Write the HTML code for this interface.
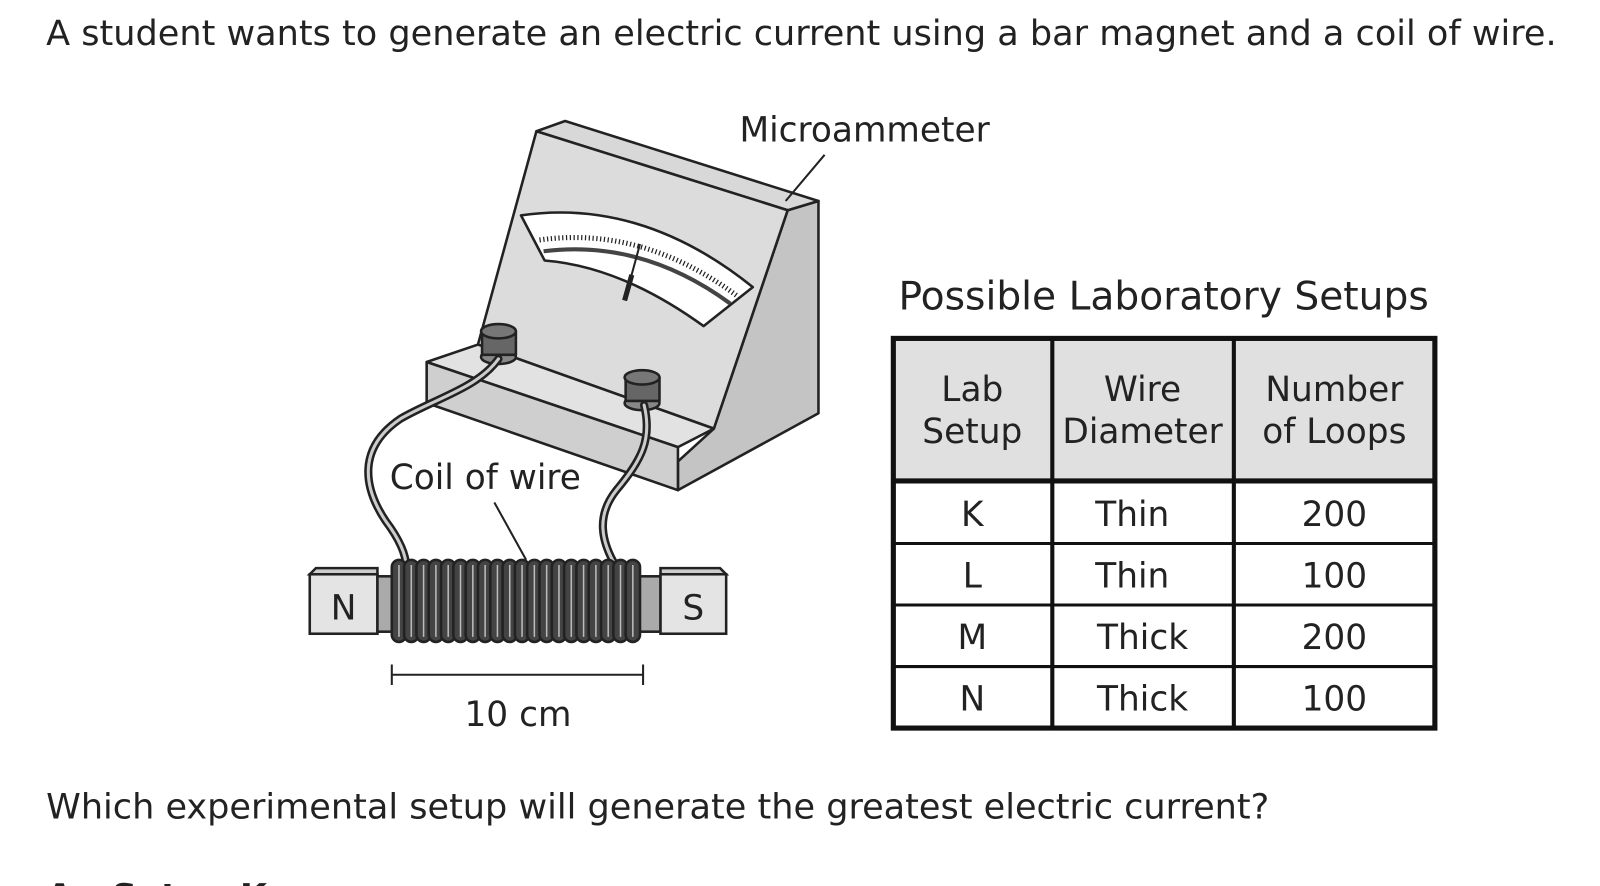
<!DOCTYPE html>
<html><head><meta charset="utf-8"><style>
html,body{margin:0;padding:0;background:#fff;}
body{width:1600px;height:886px;overflow:hidden;}
</style></head><body>
<svg width="1600" height="886" viewBox="0 0 1560 864" preserveAspectRatio="none" xmlns="http://www.w3.org/2000/svg" style="display:block">
<g transform="translate(-4,-2)">
<g font-family="DejaVu Sans, Liberation Sans, sans-serif" fill="#222">
 <text x="49" y="46" font-size="34.2">A student wants to generate an electric current using a bar magnet and a coil of wire.</text>
 <text x="49" y="800" font-size="34.2">Which experimental setup will generate the greatest electric current?</text>
 <text x="49" y="888" font-size="34.2" font-weight="bold">A</text>
 <text x="113" y="888" font-size="34.2" font-weight="bold">Setup K</text>
</g>
<g stroke="#222" stroke-width="2.5" stroke-linejoin="round">
 <polygon points="772,207 802,198 802,405 665,480 665,452 700,420" fill="#c4c4c4"/>
 <polygon points="527,130 555,120 802,198 772,207" fill="#d8d8d8"/>
 <polygon points="527,130 772,207 700,420 470,338" fill="#dcdcdc"/>
 <polygon points="420,355 470,338 700,420 665,438" fill="#e2e2e2"/>
 <polygon points="420,355 665,438 665,480 420,395" fill="#cfcfcf"/>
 <path d="M512,212 Q630,195 738,282 L690,320 Q610,262 535,256 Z" fill="#fff"/>
 <path d="M534,247 Q630,235 716,298" fill="none" stroke-width="4" stroke="#444"/>
 <path d="M530,236 Q630,222 722,290" fill="none" stroke-width="5" stroke-dasharray="1.2 2.5"/>
 <line x1="628" y1="240" x2="613" y2="295" stroke-width="2"/>
 <line x1="620" y1="270" x2="613" y2="295" stroke-width="5"/>
 <ellipse cx="490" cy="350" rx="17" ry="7" fill="#888"/>
 <rect x="474" y="325" width="33" height="23" fill="#666"/>
 <ellipse cx="490" cy="325" rx="17" ry="7" fill="#777"/>
 <ellipse cx="630" cy="395" rx="17" ry="7" fill="#888"/>
 <rect x="614" y="370" width="33" height="23" fill="#666"/>
 <ellipse cx="630" cy="370" rx="17" ry="7" fill="#777"/>
</g>
<g fill="none" stroke-linecap="round">
 <path d="M490,352 C470,380 430,390 395,410 C350,440 360,480 380,510 C395,530 400,545 400,555" stroke="#222" stroke-width="8"/>
 <path d="M490,352 C470,380 430,390 395,410 C350,440 360,480 380,510 C395,530 400,545 400,555" stroke="#ccc" stroke-width="3"/>
 <path d="M632,397 C640,430 630,450 605,480 C585,505 590,530 605,555" stroke="#222" stroke-width="8"/>
 <path d="M632,397 C640,430 630,450 605,480 C585,505 590,530 605,555" stroke="#ccc" stroke-width="3"/>
</g>
<g stroke="#222" stroke-width="2.5">
 <rect x="306" y="562" width="66" height="58" fill="#e4e4e4"/>
 <polygon points="306,562 312,556 372,556 372,562" fill="#ccc"/>
 <rect x="372" y="564" width="276" height="54" fill="#aaa"/>
 <rect x="648" y="562" width="64" height="58" fill="#e4e4e4"/>
 <polygon points="648,562 648,556 706,556 712,562" fill="#ccc"/>
</g>
<g stroke="#222" stroke-width="2.5" fill="#444">
 <rect x="386" y="548" width="14" height="80" rx="7"/><rect x="398" y="548" width="14" height="80" rx="7"/>
 <rect x="410" y="548" width="14" height="80" rx="7"/><rect x="422" y="548" width="14" height="80" rx="7"/>
 <rect x="434" y="548" width="14" height="80" rx="7"/><rect x="446" y="548" width="14" height="80" rx="7"/>
 <rect x="458" y="548" width="14" height="80" rx="7"/><rect x="470" y="548" width="14" height="80" rx="7"/>
 <rect x="482" y="548" width="14" height="80" rx="7"/><rect x="494" y="548" width="14" height="80" rx="7"/>
 <rect x="506" y="548" width="14" height="80" rx="7"/><rect x="518" y="548" width="14" height="80" rx="7"/>
 <rect x="530" y="548" width="14" height="80" rx="7"/><rect x="542" y="548" width="14" height="80" rx="7"/>
 <rect x="554" y="548" width="14" height="80" rx="7"/><rect x="566" y="548" width="14" height="80" rx="7"/>
 <rect x="578" y="548" width="14" height="80" rx="7"/><rect x="590" y="548" width="14" height="80" rx="7"/>
 <rect x="602" y="548" width="14" height="80" rx="7"/><rect x="614" y="548" width="14" height="80" rx="7"/>
</g>
<g fill="none" stroke="#bbb" stroke-width="1.5">
 <path d="M393,553v70M405,553v70M417,553v70M429,553v70M441,553v70M453,553v70M465,553v70M477,553v70M489,553v70M501,553v70M513,553v70M525,553v70M537,553v70M549,553v70M561,553v70M573,553v70M585,553v70M597,553v70M609,553v70M621,553v70"/>
</g>
<g stroke="#222" stroke-width="2">
 <line x1="808" y1="153" x2="770" y2="198"/>
 <line x1="486" y1="492" x2="517" y2="548"/>
 <line x1="386" y1="660" x2="631" y2="660"/>
 <line x1="386" y1="650" x2="386" y2="670"/>
 <line x1="631" y1="650" x2="631" y2="670"/>
</g>
<g font-family="DejaVu Sans, sans-serif" font-size="33.5" fill="#222">
 <text x="725" y="140">Microammeter</text>
 <text x="384" y="479">Coil of wire</text>
 <text x="509" y="710" text-anchor="middle">10 cm</text>
 <text x="339" y="606" text-anchor="middle">N</text>
 <text x="680" y="606" text-anchor="middle">S</text>
 <text x="880" y="304" font-size="38.2">Possible Laboratory Setups</text>
</g>
<rect x="875" y="332" width="528" height="138" fill="#e0e0e0"/>
<g stroke="#111" fill="none">
 <rect x="875" y="332" width="528" height="380" stroke-width="5"/>
 <line x1="1030" y1="332" x2="1030" y2="712" stroke-width="4"/>
 <line x1="1207" y1="332" x2="1207" y2="712" stroke-width="4"/>
 <line x1="875" y1="471" x2="1403" y2="471" stroke-width="5"/>
 <line x1="875" y1="532" x2="1403" y2="532" stroke-width="3"/>
 <line x1="875" y1="592" x2="1403" y2="592" stroke-width="3"/>
 <line x1="875" y1="652" x2="1403" y2="652" stroke-width="3"/>
</g>
<g font-family="DejaVu Sans, sans-serif" font-size="33.5" fill="#222" text-anchor="middle">
 <text x="952" y="393">Lab</text><text x="952" y="434">Setup</text>
 <text x="1118" y="393">Wire</text><text x="1118" y="434">Diameter</text>
 <text x="1305" y="393">Number</text><text x="1305" y="434">of Loops</text>
 <text x="952" y="515">K</text><text x="1108" y="515">Thin</text><text x="1305" y="515">200</text>
 <text x="952" y="575">L</text><text x="1108" y="575">Thin</text><text x="1305" y="575">100</text>
 <text x="952" y="635">M</text><text x="1118" y="635">Thick</text><text x="1305" y="635">200</text>
 <text x="952" y="695">N</text><text x="1118" y="695">Thick</text><text x="1305" y="695">100</text>
</g>
</g>
</svg>
</body></html>
